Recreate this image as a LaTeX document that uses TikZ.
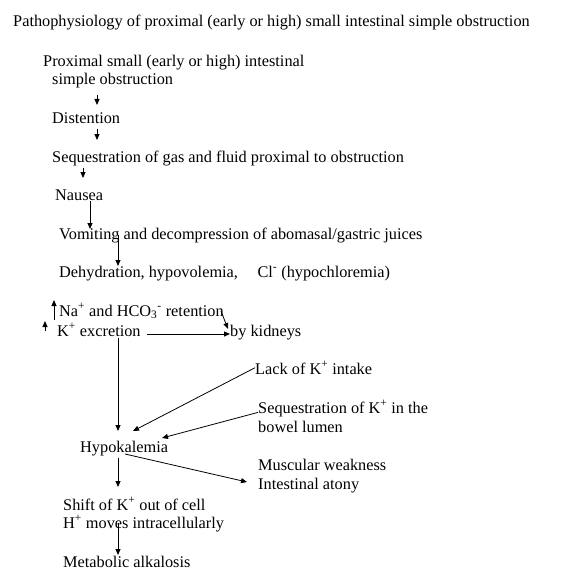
\documentclass[tikz,border=0pt]{standalone}
\usepackage{fontspec}
\setmainfont{Liberation Serif}
\usetikzlibrary{arrows.meta}
\begin{document}
\begin{tikzpicture}[x=1pt,y=-1pt,
  txt/.style={anchor=base west,inner sep=0pt,font=\fontsize{16.3}{19}\selectfont},
  arr/.style={-{Triangle[length=6pt,width=5pt]},line width=0.8pt}]
\useasboundingbox[fill=white] (0,0) rectangle (565,583);
% texts
\node[txt] (title) at (13,27) {Pathophysiology of proximal (early or high) small intestinal simple obstruction};
\node[txt] (prox) at (43,67) {Proximal small (early or high) intestinal};
\node[txt] (simple) at (52,85) {simple obstruction};
\node[txt] (dist) at (52,124) {Distention};
\node[txt] (seq) at (52,162) {Sequestration of gas and fluid proximal to obstruction};
\node[txt] (naus) at (55,200) {Nausea};
\node[txt] (vom) at (59,239) {Vomiting and decompression of abomasal/gastric juices};
\node[txt] (dehy) at (59,277) {Dehydration, hypovolemia,\hspace{1.2em}Cl\textsuperscript{-} (hypochloremia)};
\node[txt] (na) at (59,316) {Na\textsuperscript{+} and HCO\textsubscript{3}\textsuperscript{-} retention};
\node[txt] (kex) at (57,336) {K\textsuperscript{+} excretion};
\node[txt] (kid) at (230,336) {by kidneys};
\node[txt] (lack) at (255,374) {Lack of K\textsuperscript{+} intake};
\node[txt] (seqk) at (258,413) {Sequestration of K\textsuperscript{+} in the};
\node[txt] (bowel) at (258,432) {bowel lumen};
\node[txt] (hypo) at (80,452) {Hypokalemia};
\node[txt] (musc) at (258,470) {Muscular weakness};
\node[txt] (aton) at (258,489) {Intestinal atony};
\node[txt] (shift) at (63,510) {Shift of K\textsuperscript{+} out of cell};
\node[txt] (hmov) at (63,528) {H\textsuperscript{+} moves intracellularly};
\node[txt] (meta) at (63,567) {Metabolic alkalosis};
% vertical chain arrows
\draw[arr] (simple.south -| 97,0) ++(0,6) -- (97,105);
\draw[arr] (dist.south -| 97,0) ++(0,5) -- (97,140);
\draw[arr] (seq.south -| 83,0) ++(0,2) -- (83,178);
\draw[arr] (naus.south -| 90,0) ++(0,1) -- (90,229);
\draw[arr] (vom.center -| 118,0) -- (118,266);
% ion arrows
\draw[arr] (na.base -| 54,0) ++(0,4) -- (54,300);
\draw[arr] (45,331) -- (45,321);
\draw[arr] ([xshift=6pt]kex.east |- 0,334) -- (kid.west |- 0,334);
\draw[arr] (na.east |- 0,311) ++(-3,0) -- (228,329);
% to hypokalemia
\draw[arr] (kex.south -| 118,0) ++(0,2) -- (118,431);
\draw[arr] (lack.west) -- (133,431);
\draw[arr] ([yshift=-4pt]seqk.west) -- (162,438);
\draw[arr] (hypo.base -| 125,0) ++(0,2) -- ([xshift=-11pt]musc.west |- 0,482);
% below hypokalemia
\draw[arr] (hypo.south -| 118,0) ++(0,2) -- (118,487);
\draw[arr] (hmov.center -| 118,0) -- (118,555);
\end{tikzpicture}
\end{document}
